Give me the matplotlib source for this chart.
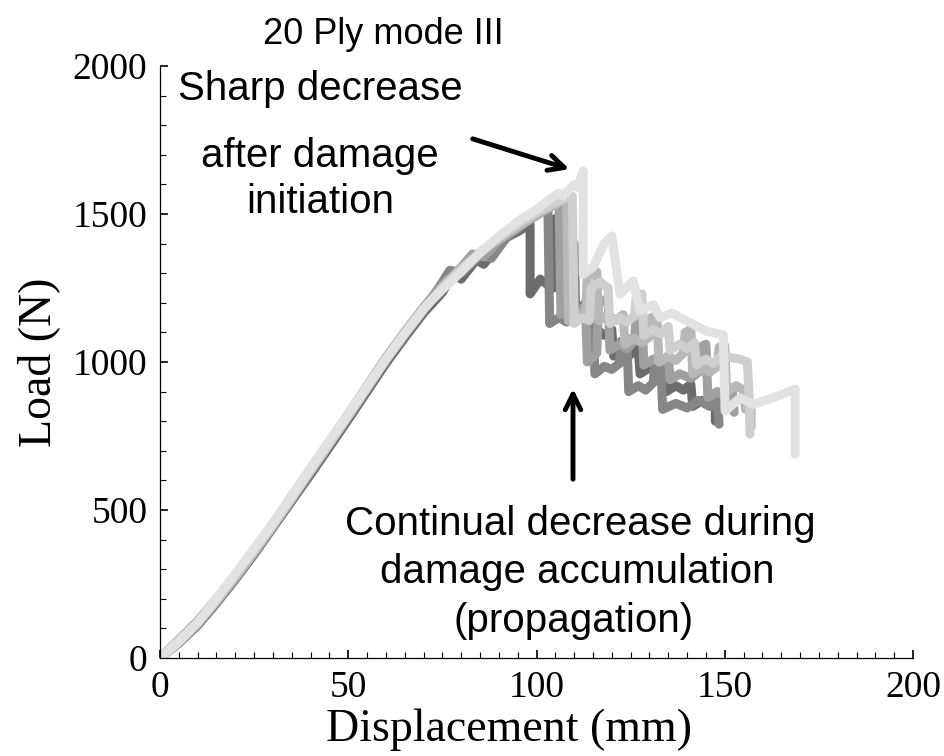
import matplotlib
matplotlib.use('Agg')
import matplotlib.pyplot as plt
from matplotlib.ticker import MultipleLocator

# load-displacement curves of the six 20 ply specimens (mm, N)
spec_a = [(0, 0), (5, 50), (10, 110), (15, 185), (20, 265), (25, 350), (30, 440), (35, 530),
          (40, 620), (45, 712), (50, 805), (55, 900), (60, 995), (65, 1082), (70, 1165),
          (75, 1235), (78, 1300), (80, 1280), (84, 1345), (86, 1330), (90, 1395), (92, 1420),
          (95, 1440), (98.3, 1466), (98.3, 1230), (101, 1280), (103, 1260), (104.5, 1250),
          (104.5, 1480), (107, 1500), (107.5, 1180), (110, 1200), (111, 1170), (113, 1200),
          (113.5, 1090), (116, 1110), (118, 1090), (120, 1110), (120.5, 1020), (123, 1040),
          (125, 1025), (127, 1050), (127.5, 960), (130, 980), (132, 965), (134, 985), (134.5, 900),
          (137, 920), (139, 905), (141, 925), (141.5, 850), (144, 870), (146, 855), (147.5, 875),
          (147.5, 800)]
spec_b = [(0, 0), (5, 58), (10, 120), (15, 195), (20, 275), (25, 360), (30, 450), (35, 542),
          (40, 635), (45, 727), (50, 820), (55, 915), (60, 1010), (65, 1097), (70, 1180),
          (74, 1250), (77, 1310), (80, 1300), (85, 1360), (88, 1350), (92, 1420), (96, 1460),
          (100, 1500), (103, 1540), (103.5, 1130), (106, 1150), (108, 1135), (108.5, 1390),
          (110, 1400), (110.5, 1150), (113, 1170), (115, 1150), (115.5, 960), (118, 985),
          (120, 975), (122, 995), (122.5, 1070), (124, 1080), (124.5, 900), (127, 920), (129, 905),
          (131, 930), (131.5, 1000), (133, 1010), (133.5, 840), (137, 860), (140, 845), (143, 870),
          (146, 850), (148, 875), (148.5, 790)]
spec_c = [(0, 0), (5, 62), (10, 125), (15, 200), (20, 280), (25, 366), (30, 455), (35, 547),
          (40, 640), (45, 732), (50, 825), (55, 920), (60, 1015), (65, 1102), (70, 1185),
          (75, 1260), (80, 1320), (83, 1365), (86, 1355), (90, 1410), (95, 1455), (100, 1495),
          (104, 1525), (106, 1540), (106.5, 1160), (109, 1185), (111, 1165), (113, 1190),
          (113.5, 1000), (116, 1030), (116.5, 1200), (119, 1215), (119.5, 1040), (122, 1060),
          (124, 1045), (126, 1070), (126.5, 1150), (128, 1160), (128.5, 990), (131, 1010),
          (133, 1000), (135, 1020), (135.5, 940), (138, 960), (141, 945), (143, 965), (143.5, 1050),
          (145, 1060), (145.5, 880), (148, 900), (150, 885), (152, 905), (152.5, 830)]
spec_d = [(0, 0), (5, 52), (10, 115), (15, 190), (20, 270), (25, 356), (30, 445), (35, 537),
          (40, 630), (45, 722), (50, 815), (55, 910), (60, 1005), (65, 1092), (70, 1175),
          (76, 1270), (80, 1310), (85, 1370), (90, 1415), (95, 1455), (100, 1500), (105, 1530),
          (108, 1555), (108.5, 1140), (111, 1165), (113, 1150), (113.5, 1290), (116, 1305),
          (116.5, 1140), (119, 1160), (121, 1140), (123, 1160), (123.5, 1060), (126, 1080),
          (128, 1065), (130, 1085), (130.5, 1150), (132, 1155), (132.5, 1000), (135, 1020),
          (137, 1005), (139, 1030), (139.5, 1100), (141, 1110), (141.5, 960), (144, 980),
          (146, 965), (148, 985), (148.5, 1050), (150, 1055), (150.5, 900), (153, 920), (155, 905),
          (155.5, 840), (157, 850), (157, 780)]
spec_e = [(0, 0), (5, 60), (10, 120), (15, 198), (20, 280), (25, 364), (30, 450), (35, 542),
          (40, 635), (45, 727), (50, 820), (55, 915), (60, 1010), (65, 1097), (70, 1180),
          (75, 1250), (80, 1315), (85, 1370), (90, 1420), (95, 1465), (100, 1505), (105, 1540),
          (109.5, 1560), (110, 1130), (112, 1150), (114, 1140), (114.5, 1250), (117, 1270),
          (119, 1250), (119.5, 1130), (122, 1150), (124, 1135), (126, 1155), (126.5, 1220),
          (128, 1230), (128.5, 1090), (131, 1110), (133, 1095), (135, 1120), (135.5, 1040),
          (138, 1060), (140, 1045), (142, 1065), (142.5, 990), (145, 1010), (147, 995), (149, 1020),
          (154, 1010), (156, 1000), (156.5, 880), (156.7, 757)]
spec_f = [(0, 0), (5, 55), (10, 120), (15, 200), (20, 285), (25, 370), (30, 455), (35, 548),
          (40, 640), (45, 733), (50, 825), (55, 918), (60, 1010), (65, 1097), (70, 1180),
          (75, 1245), (80, 1305), (85, 1368), (90, 1425), (95, 1475), (100, 1515), (104, 1555),
          (106, 1570), (107, 1560), (110, 1600), (111, 1590), (112.4, 1645), (112.4, 1296),
          (115, 1320), (118, 1400), (120, 1426), (122.2, 1229), (125.7, 1274), (127.5, 1172),
          (131, 1194), (132.8, 1150), (136, 1165), (141.7, 1127), (145.2, 1104), (149.6, 1092),
          (150.1, 834), (154.1, 879), (157.6, 857), (162.9, 879), (168.7, 908), (168.7, 688)]

specimens = [spec_a, spec_b, spec_c, spec_d, spec_e, spec_f]
grays = ['#6c6c6c', '#868686', '#a0a0a0', '#b8b8b8', '#cfcfcf', '#e2e2e2']

W, H = 944, 756
fig = plt.figure(figsize=(W / 100, H / 100), dpi=100)
# axes box in pixels: x 160..913, y 66..658 (from the top)
ax = fig.add_axes([160 / W, 1 - 658 / H, 753 / W, 592 / H])

for spec, c in zip(specimens, grays):
    x, y = zip(*spec)
    ax.plot(x, y, color=c, lw=6.5, solid_joinstyle='round', solid_capstyle='round')

ax.set_xlim(0, 200)
ax.set_ylim(0, 2000)
ax.xaxis.set_major_locator(MultipleLocator(50))
ax.xaxis.set_minor_locator(MultipleLocator(5))
ax.yaxis.set_major_locator(MultipleLocator(500))
ax.yaxis.set_minor_locator(MultipleLocator(100))
ax.spines['top'].set_visible(False)
ax.spines['right'].set_visible(False)
for s in ['left', 'bottom']:
    ax.spines[s].set_linewidth(0.9)
ax.tick_params(which='major', direction='in', length=6, width=1.2, pad=9)
ax.tick_params(which='minor', direction='in', length=4, width=0.8)
for lab in ax.get_xticklabels() + ax.get_yticklabels():
    lab.set_fontfamily('Liberation Serif')
    lab.set_fontsize(27)

ax.set_xlabel('Displacement (mm)', fontfamily='Liberation Serif', fontsize=33)
ax.set_ylabel('Load (N)', fontfamily='Liberation Serif', fontsize=33)
ax.xaxis.set_label_coords(0.463, -0.0845)
ax.yaxis.set_label_coords(-0.133, 0.5)

def fpos(px, py):
    return px / W, 1 - py / H

sans = 'Liberation Sans'
fig.text(*fpos(383, 44), '20 Ply mode III', family=sans, fontsize=26, ha='center', va='baseline')
fig.text(*fpos(320, 100), 'Sharp decrease', family=sans, fontsize=29, ha='center', va='baseline')
fig.text(*fpos(320, 167), 'after damage', family=sans, fontsize=29, ha='center', va='baseline')
fig.text(*fpos(320, 213), 'initiation', family=sans, fontsize=29, ha='center', va='baseline')
fig.text(*fpos(580, 535), 'Continual decrease during', family=sans, fontsize=29, ha='center', va='baseline')
fig.text(*fpos(577, 583), 'damage accumulation', family=sans, fontsize=29, ha='center', va='baseline')
fig.text(*fpos(574, 632), '(propagation)', family=sans, fontsize=29, ha='center', va='baseline')

arrow = dict(arrowstyle='->', lw=3.5, color='black', mutation_scale=28)
ax.annotate('', xy=fpos(572, 170), xytext=fpos(470, 138), xycoords='figure fraction',
            textcoords='figure fraction', arrowprops=arrow)
ax.annotate('', xy=fpos(573, 386), xytext=fpos(573, 482), xycoords='figure fraction',
            textcoords='figure fraction', arrowprops=arrow)

fig.savefig('out.png', dpi=100)
